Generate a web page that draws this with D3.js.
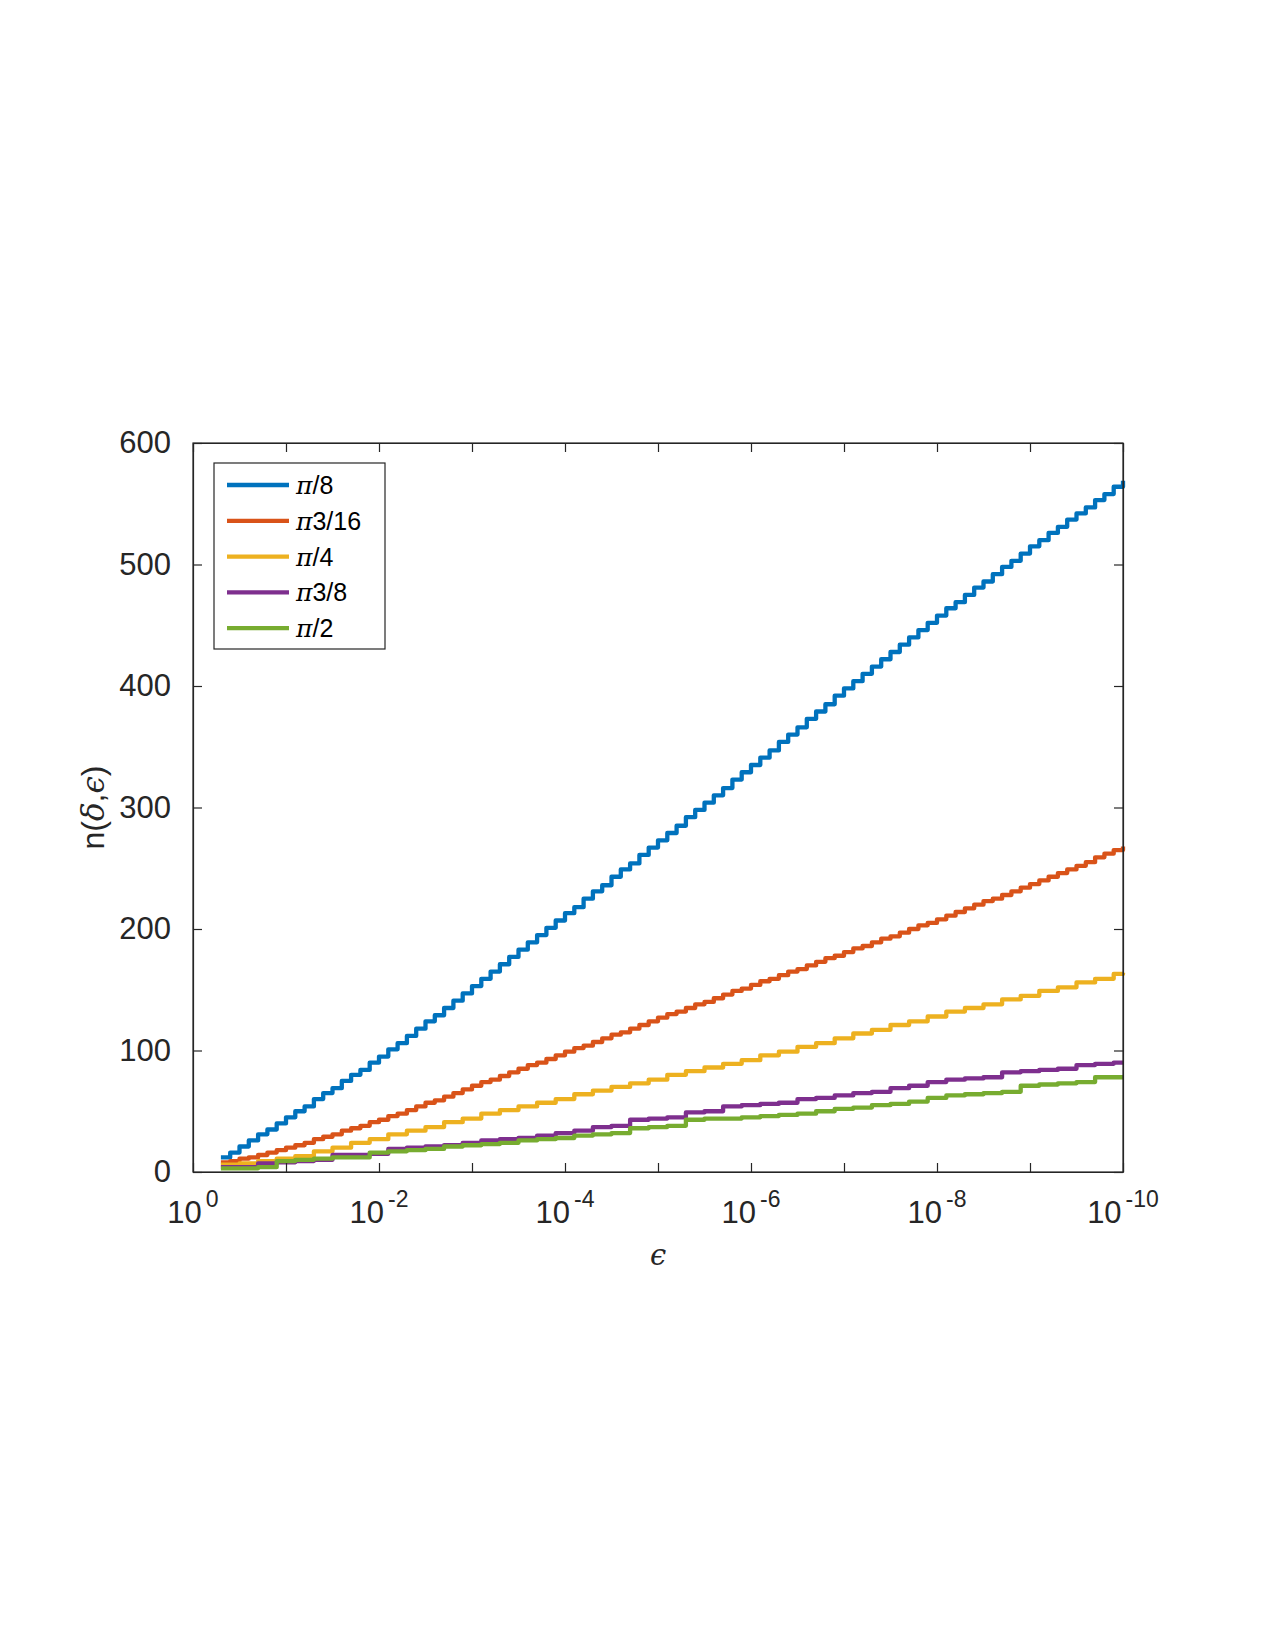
<!DOCTYPE html>
<html>
<head>
<meta charset="utf-8">
<script src="https://cdn.jsdelivr.net/npm/d3@7"></script>
<style>
  body { margin: 0; background: #fff; }
  svg { display: block; }
  .tick text { font-family: "Liberation Sans", Arial, sans-serif; fill: #262626; }
</style>
</head>
<body>
<svg id="chart" width="1275" height="1650"></svg>
<script>
// -log10(epsilon) grids, fine one for the steep curves
const fineExp = [0.3,0.4,0.5,0.6,0.7,0.8,0.9,1.0,
  1.1,1.2,1.3,1.4,1.5,1.6,1.7,1.8,1.9,2.0,
  2.1,2.2,2.3,2.4,2.5,2.6,2.7,2.8,2.9,3.0,
  3.1,3.2,3.3,3.4,3.5,3.6,3.7,3.8,3.9,4.0,
  4.1,4.2,4.3,4.4,4.5,4.6,4.7,4.8,4.9,5.0,
  5.1,5.2,5.3,5.4,5.5,5.6,5.7,5.8,5.9,6.0,
  6.1,6.2,6.3,6.4,6.5,6.6,6.7,6.8,6.9,7.0,
  7.1,7.2,7.3,7.4,7.5,7.6,7.7,7.8,7.9,8.0,
  8.1,8.2,8.3,8.4,8.5,8.6,8.7,8.8,8.9,9.0,
  9.1,9.2,9.3,9.4,9.5,9.6,9.7,9.8,9.9,10.0];
const midExp = [0.3,0.5,0.7,0.9,1.1,1.3,1.5,1.7,1.9,2.1,2.3,2.5,2.7,2.9,3.1,3.3,3.5,3.7,3.9,
  4.1,4.3,4.5,4.7,4.9,5.1,5.3,5.5,5.7,5.9,6.1,6.3,6.5,6.7,6.9,7.1,7.3,7.5,7.7,7.9,
  8.1,8.3,8.5,8.7,8.9,9.1,9.3,9.5,9.7,9.9,10.0];

const nPi8 = [12,16,21,26,31,35,40,45,
  50,54,60,65,69,75,80,84,90,95,
  101,106,112,118,124,129,135,141,147,153,
  159,165,171,177,183,189,195,201,207,213,
  218,225,231,236,243,249,254,261,267,273,
  279,285,292,298,304,310,316,323,329,335,
  341,347,354,360,366,373,379,385,392,398,
  404,410,416,422,428,434,440,446,452,458,
  464,469,475,481,486,492,498,503,509,515,
  520,526,531,537,542,547,553,558,564,569];
const nPi3_16 = [8,9,11,12,14,16,18,20,
  22,24,27,29,31,34,36,38,41,43,
  46,48,51,54,57,59,62,65,68,71,
  74,76,79,82,85,88,90,93,96,99,
  102,104,107,110,113,115,118,121,124,127,
  130,132,135,138,140,143,146,149,151,154,
  157,159,162,165,167,170,173,176,178,181,
  184,186,189,192,194,197,200,203,205,208,
  211,214,217,220,223,225,228,231,234,237,
  240,243,246,249,252,255,259,262,265,268];
const nPi4 = [6,7,9,11,13,17,20,24,27,31,34,37,41,44,48,51,54,57,60,64,
  67,70,73,76,80,83,86,89,92,96,99,103,106,110,114,117,121,124,128,132,
  135,138,142,145,149,152,156,159,163,164];
const nPi3_8 = [4,4,7,8,9,10,14,14,15,19,20,21,22,24,26,27,28,30,32,34,
  37,38,43,44,45,49,50,54,55,56,57,60,61,63,65,66,69,71,74,76,
  77,78,82,83,84,85,88,89,90,90];
const nPi2 = [3,3,4,9,10,11,12,12,16,17,18,19,21,22,23,24,26,27,28,30,
  31,32,36,37,38,43,44,44,45,46,47,48,50,52,53,55,56,58,61,63,
  64,65,66,71,72,73,74,78,78,78];

const seriesNames = ["/8", "3/16", "/4", "3/8", "/2"];
const seriesColors = ["#0072BD", "#D95319", "#EDB120", "#7E2F8E", "#77AC30"];
const seriesExp = [fineExp, fineExp, midExp, midExp, midExp];
const seriesN = [nPi8, nPi3_16, nPi4, nPi3_8, nPi2];

const yTicks = [0, 100, 200, 300, 400, 500, 600];
const xTickExp = [0,1,2,3,4,5,6,7,8,9,10];
const xLabelExp = [0,2,4,6,8,10];

const svg = d3.select("#chart");
const plotLeft = 193, plotRight = 1123, plotTop = 443, plotBottom = 1172;

const x = d3.scaleLog().domain([1, 1e-10]).range([plotLeft, plotRight]);
const y = d3.scaleLinear().domain([0, 600]).range([plotBottom, plotTop]);

const axisColor = "#262626";

// curves
const line = d3.line()
  .x(d => x(Math.pow(10, -d[0])))
  .y(d => y(d[1]))
  .curve(d3.curveStepAfter);

seriesN.forEach(function(vals, i) {
  const pts = vals.map((v, k) => [seriesExp[i][k], v]);
  svg.append("path")
    .attr("d", line(pts))
    .attr("fill", "none")
    .attr("stroke", seriesColors[i])
    .attr("stroke-width", 4.3)
    .attr("stroke-linejoin", "round");
});

// axes, ticks pointing in
const xVals = xTickExp.map(e => Math.pow(10, -e));
svg.append("g").attr("transform", "translate(0," + plotBottom + ")")
  .call(d3.axisBottom(x).tickValues(xVals).tickSize(-9).tickSizeOuter(0).tickFormat(""));
svg.append("g").attr("transform", "translate(0," + plotTop + ")")
  .call(d3.axisTop(x).tickValues(xVals).tickSize(-9).tickSizeOuter(0).tickFormat(""));
svg.append("g").attr("transform", "translate(" + plotLeft + ",0)")
  .call(d3.axisLeft(y).tickValues(yTicks).tickSize(-9).tickSizeOuter(0).tickPadding(22))
  .selectAll("text").style("font-size", "31px");
svg.append("g").attr("transform", "translate(" + plotRight + ",0)")
  .call(d3.axisRight(y).tickValues(yTicks).tickSize(-9).tickSizeOuter(0).tickFormat(""));

svg.selectAll(".domain").attr("stroke", axisColor).attr("stroke-width", 1.2);
svg.selectAll(".tick line").attr("stroke", axisColor).attr("stroke-width", 1.2);

svg.append("rect")
  .attr("x", plotLeft).attr("y", plotTop)
  .attr("width", plotRight - plotLeft).attr("height", plotBottom - plotTop)
  .attr("fill", "none").attr("stroke", axisColor).attr("stroke-width", 1.2);

// x tick labels 10^-k
xLabelExp.forEach(function(e) {
  const t = svg.append("text")
    .attr("x", x(Math.pow(10, -e)))
    .attr("y", 1223)
    .attr("text-anchor", "middle")
    .style("font-family", "Liberation Sans, Arial, sans-serif")
    .style("font-size", "31px")
    .attr("fill", axisColor);
  t.append("tspan").text("10");
  t.append("tspan").attr("dy", -16).attr("dx", 4)
    .style("font-size", "23px")
    .text(e === 0 ? "0" : "-" + e);
});

// axis labels
svg.append("text")
  .attr("x", (plotLeft + plotRight) / 2).attr("y", 1265)
  .attr("text-anchor", "middle")
  .style("font-family", "DejaVu Serif, serif")
  .style("font-style", "italic")
  .style("font-size", "29px")
  .attr("fill", axisColor)
  .text("\u03f5");

const yl = svg.append("text")
  .attr("transform", "translate(104," + ((plotTop + plotBottom) / 2) + ") rotate(-90)")
  .attr("text-anchor", "middle")
  .style("font-family", "Liberation Sans, Arial, sans-serif")
  .style("font-size", "32px")
  .attr("fill", axisColor);
yl.append("tspan").text("n(");
yl.append("tspan").style("font-family", "DejaVu Serif, serif").style("font-style", "italic").style("font-size", "31px").text("\u03b4");
yl.append("tspan").text(",");
yl.append("tspan").style("font-family", "DejaVu Serif, serif").style("font-style", "italic").style("font-size", "31px").text("\u03f5");
yl.append("tspan").text(")");

// legend
const legend = svg.append("g");
legend.append("rect")
  .attr("x", 214).attr("y", 463)
  .attr("width", 171).attr("height", 186)
  .attr("fill", "#fff").attr("stroke", axisColor).attr("stroke-width", 1.2);

seriesNames.forEach(function(name, i) {
  const ly = 485 + i * 35.8;
  legend.append("line")
    .attr("x1", 227).attr("x2", 289)
    .attr("y1", ly).attr("y2", ly)
    .attr("stroke", seriesColors[i]).attr("stroke-width", 4.3);
  const t = legend.append("text")
    .attr("x", 296).attr("y", ly + 9)
    .style("font-family", "Liberation Sans, Arial, sans-serif")
    .style("font-size", "25px")
    .attr("fill", "#000");
  t.append("tspan").style("font-family", "DejaVu Serif, serif").style("font-style", "italic").text("\u03c0");
  t.append("tspan").text(name);
});
</script>
</body>
</html>
